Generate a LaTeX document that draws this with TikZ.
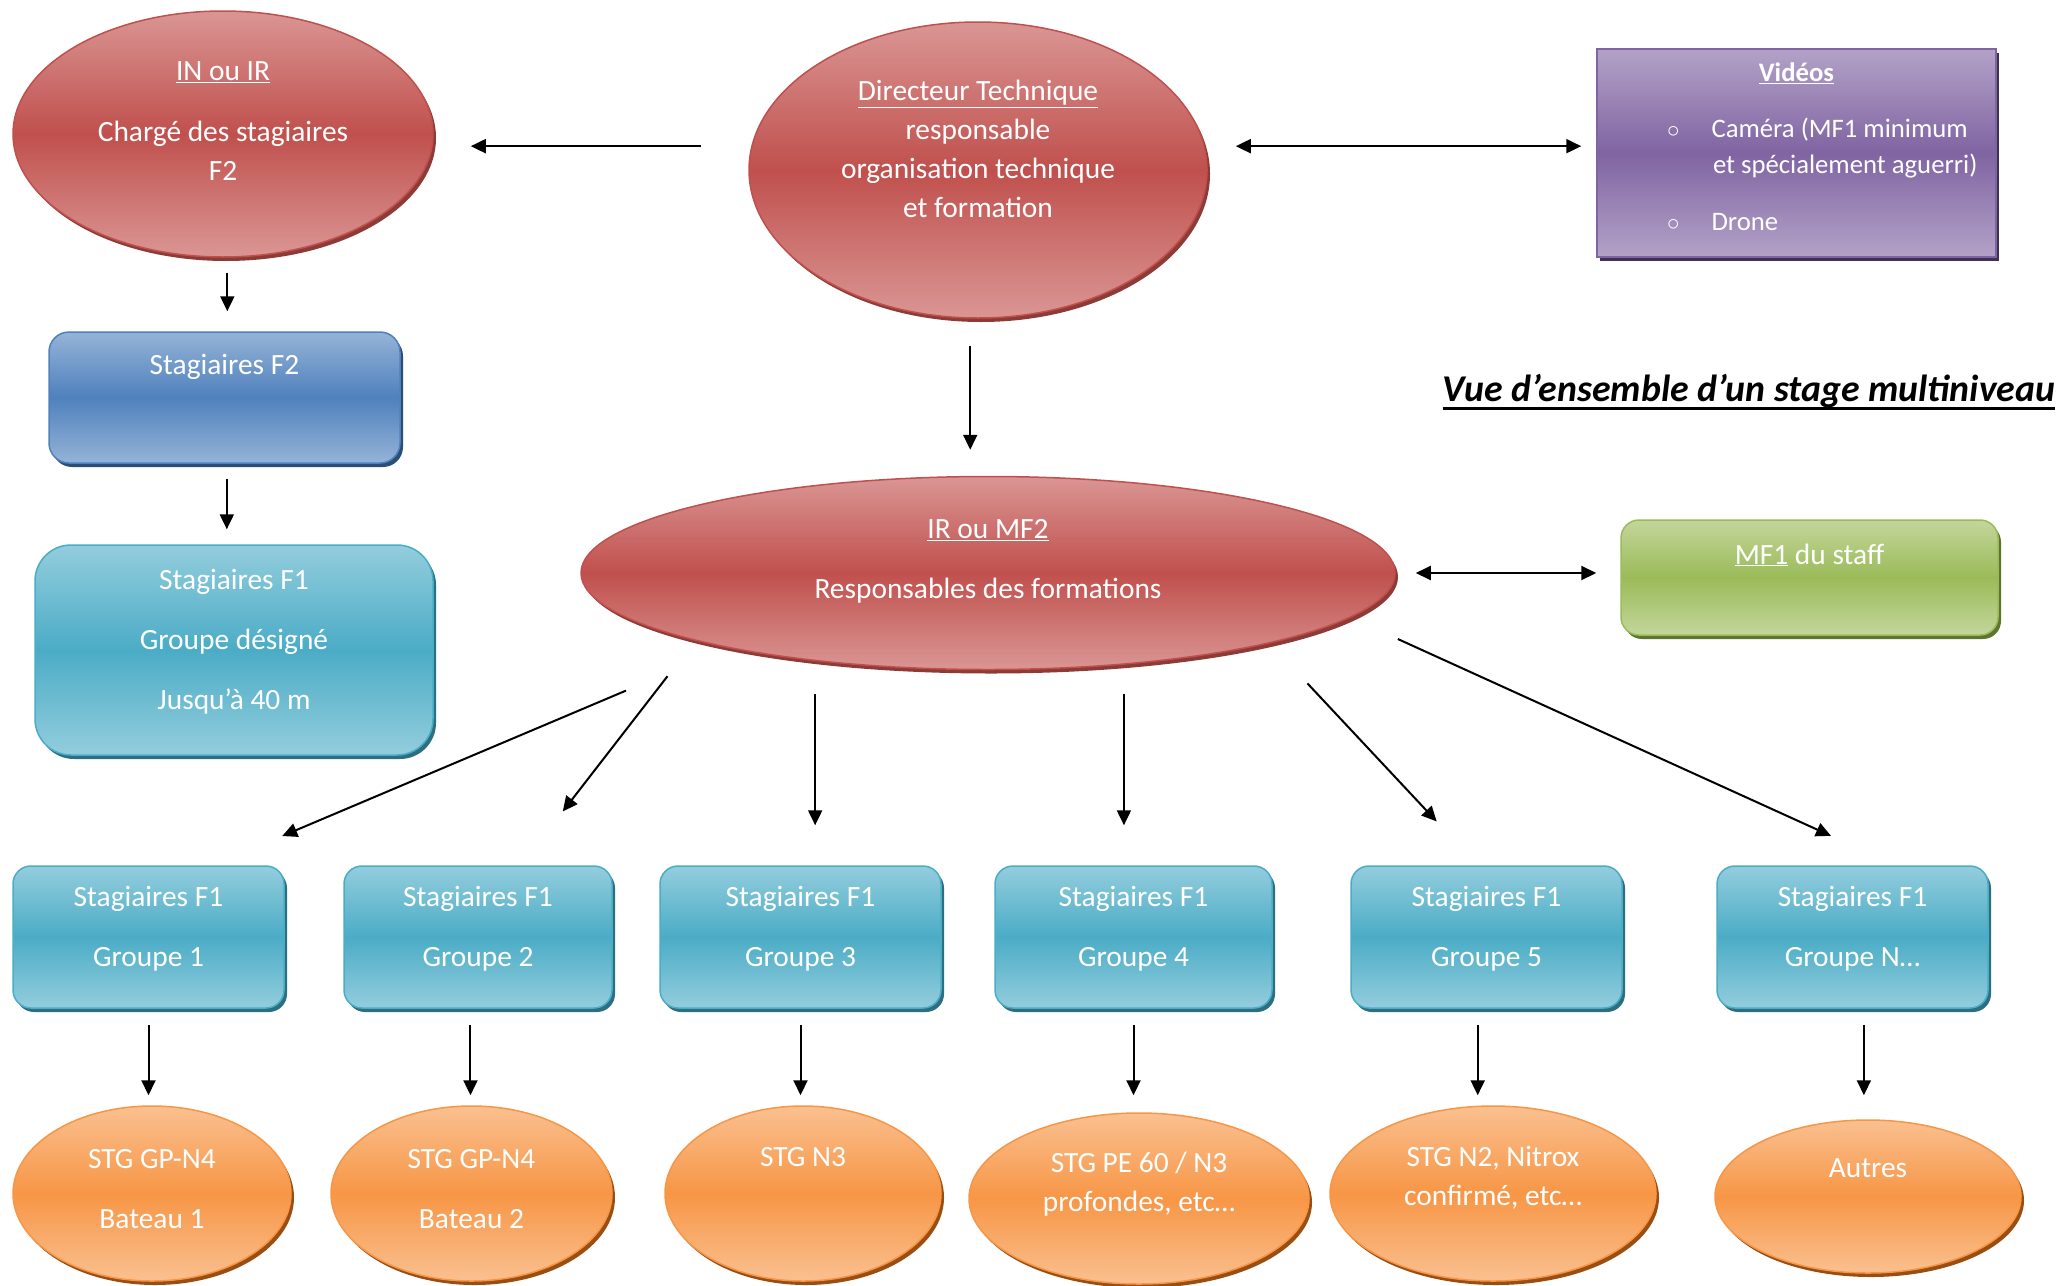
\documentclass[tikz,border=0pt]{standalone}
\usepackage{fontspec}
\setmainfont{Carlito}
\usetikzlibrary{shapes.geometric,shadows,arrows.meta}

\definecolor{rougeF}{HTML}{C0504D}
\definecolor{rougeC}{HTML}{DA9694}
\definecolor{rougeO}{HTML}{8E3A37}
\definecolor{bleuF}{HTML}{4F81BD}
\definecolor{bleuC}{HTML}{95B3D7}
\definecolor{bleuO}{HTML}{2C4D75}
\definecolor{cyanF}{HTML}{4BACC6}
\definecolor{cyanC}{HTML}{93CDDD}
\definecolor{cyanO}{HTML}{2B6F80}
\definecolor{vertF}{HTML}{9BBB59}
\definecolor{vertC}{HTML}{C3D69B}
\definecolor{vertO}{HTML}{5E7530}
\definecolor{violetF}{HTML}{8064A2}
\definecolor{violetC}{HTML}{B3A2C7}
\definecolor{violetO}{HTML}{3F3151}
\definecolor{orangeF}{HTML}{F79646}
\definecolor{orangeC}{HTML}{FAC090}
\definecolor{orangeO}{HTML}{9A4E12}

\newcommand{\cale}[1]{\rule[-#1]{0pt}{#1}}
\newcommand{\soulignegras}[1]{\setbox0\hbox{#1}\rlap{\rule[-8pt]{\wd0}{3pt}}\box0}

\begin{document}
\begin{tikzpicture}[x=1pt,y=-1pt,
    every node/.style={font=\fontsize{29.4}{39}\selectfont, text=white, align=center, inner sep=0pt},
    >={Triangle[length=15pt,width=14pt]},
    fleche/.style={line width=2pt},
    relief/.style={drop shadow={shadow xshift=3pt,shadow yshift=-4pt,fill=#1,opacity=1}},
    rouge/.style={ellipse, draw=rougeF, line width=1.5pt,
        top color=rougeC, bottom color=rougeC, middle color=rougeF, relief=rougeO},
    orange/.style={ellipse, draw=orangeF, line width=1.5pt,
        top color=orangeC, bottom color=orangeC, middle color=orangeF, relief=orangeO},
    groupe/.style={rectangle, rounded corners=18pt, draw=cyanF, line width=1.5pt,
        top color=cyanC, bottom color=cyanC, middle color=cyanF, relief=cyanO,
        minimum height=142pt},
    titre/.style={text=black, font=\fontsize{37.8}{45}\selectfont\bfseries\itshape}
  ]
  \useasboundingbox (0,0) rectangle (2058,1285);

  \node [rouge, minimum width=420pt, minimum height=246pt] (in) at (223,134)
    {\underline{IN ou IR}\\[22pt]Chargé des stagiaires\\F2\cale{26pt}};
  \node [rouge, minimum width=458pt, minimum height=296pt] (dir) at (978,170)
    {\underline{Directeur Technique}\\responsable\\organisation technique\\et formation\cale{42pt}};
  \node [rectangle, draw=violetF, line width=1.5pt, top color=violetC, bottom color=violetC,
      middle color=violetF, relief=violetO, minimum width=399pt, minimum height=208pt,
      align=left, font=\fontsize{26.7}{36}\selectfont] (vid) at (1796.5,153)
    {\makebox[399pt]{\textbf{\underline{Vidéos}}}\\[20pt]
     \makebox[399pt][l]{\hspace*{70pt}\makebox[44.5pt][l]{$\circ$}Caméra (MF1 minimum}\\
     \makebox[399pt][l]{\hspace*{116pt}et spécialement aguerri)}\\[21pt]
     \makebox[399pt][l]{\hspace*{70pt}\makebox[44.5pt][l]{$\circ$}Drone}\cale{12pt}};
  \node [titre] (titre) at (1749,392) {\soulignegras{Vue d’ensemble d’un stage multiniveau}};

  \node [rectangle, rounded corners=20pt, draw=bleuF, line width=1.5pt, top color=bleuC,
      bottom color=bleuC, middle color=bleuF, relief=bleuO,
      minimum width=351pt, minimum height=131pt] (f2) at (224.5,397.5)
    {Stagiaires F2\cale{66pt}};
  \node [groupe, rounded corners=36pt, minimum width=398pt, minimum height=210pt] (f1d) at (234,650)
    {Stagiaires F1\\[21pt]Groupe désigné\\[21pt]Jusqu’à 40 m\cale{21pt}};
  \node [rouge, minimum width=814pt, minimum height=193pt] (ir) at (988,573)
    {\underline{IR ou MF2}\\[21pt]Responsables des formations\cale{28pt}};
  \node [rectangle, rounded corners=18pt, draw=vertF, line width=1.5pt, top color=vertC,
      bottom color=vertC, middle color=vertF, relief=vertO,
      minimum width=377pt, minimum height=115pt] (mf1) at (1809.5,577.5)
    {\underline{MF1} du staff\cale{47pt}};

  \node [groupe, minimum width=271pt] (g1) at (148.5,937) {Stagiaires F1\\[21pt]Groupe 1\cale{22pt}};
  \node [groupe, minimum width=268pt] (g2) at (478,937) {Stagiaires F1\\[21pt]Groupe 2\cale{22pt}};
  \node [groupe, minimum width=281pt] (g3) at (800.5,937) {Stagiaires F1\\[21pt]Groupe 3\cale{22pt}};
  \node [groupe, minimum width=277pt] (g4) at (1133.5,937) {Stagiaires F1\\[21pt]Groupe 4\cale{22pt}};
  \node [groupe, minimum width=271pt] (g5) at (1486.5,937) {Stagiaires F1\\[21pt]Groupe 5\cale{22pt}};
  \node [groupe, minimum width=271pt] (gn) at (1852.5,937) {Stagiaires F1\\[21pt]Groupe N…\cale{22pt}};

  \node [orange, minimum width=278pt, minimum height=175pt] (e1) at (152,1193.5)
    {STG GP-N4\\[21pt]Bateau 1\cale{10pt}};
  \node [orange, minimum width=281pt, minimum height=175pt] (e2) at (471.5,1193.5)
    {STG GP-N4\\[21pt]Bateau 2\cale{10pt}};
  \node [orange, minimum width=276pt, minimum height=175pt] (e3) at (803,1193.5)
    {STG N3\cale{74pt}};
  \node [orange, minimum width=340pt, minimum height=171pt] (e4) at (1139,1198.5)
    {STG PE 60 / N3\\profondes, etc…\cale{34pt}};
  \node [orange, minimum width=326pt, minimum height=175pt] (e5) at (1493,1193.5)
    {STG N2, Nitrox\\confirmé, etc…\cale{35pt}};
  \node [orange, minimum width=306pt, minimum height=153pt] (e6) at (1868,1196.5)
    {Autres\cale{56pt}};

  \draw [fleche, ->, shorten <=50pt, shorten >=37pt] (dir.174) -- (in.east |- dir.174);
  \draw [fleche, <->, shorten <=31pt, shorten >=15pt] (dir.6) -- (vid.west |- dir.6);
  \draw [fleche, ->, shorten <=27pt, shorten >=26pt] (dir.267) -- (dir.267 |- ir.north);
  \draw [fleche, ->, shorten <=15pt, shorten >=20pt] (in.272) -- (in.272 |- f2.north);
  \draw [fleche, ->, shorten <=15pt, shorten >=15pt] (f2.272) -- (f2.272 |- f1d.north);
  \draw [fleche, <->, shorten <=20pt, shorten >=24pt] (ir.east) -- (mf1.west |- ir.east);

  \draw [fleche, ->, shorten <=110pt, shorten >=75pt] (ir.196) -- (g1.48);
  \draw [fleche, ->, shorten <=45pt, shorten >=68pt] (ir.193) -- (g2.59);
  \draw [fleche, ->, shorten <=33pt, shorten >=40pt] (ir.207) -- (ir.207 |- g3.north);
  \draw [fleche, ->, shorten <=29pt, shorten >=40pt] (ir.326) -- (ir.326 |- g4.north);
  \draw [fleche, ->, shorten <=55pt, shorten >=60pt] (ir.346) -- (g5.97);
  \draw [fleche, ->, shorten <=52pt, shorten >=71pt] (ir.353) -- (gn.59);

  \draw [fleche, ->, shorten <=16pt, shorten >=10pt] (g1.south) -- (g1.south |- e1.north);
  \draw [fleche, ->, shorten <=16pt, shorten >=10pt] (g2.264) -- (g2.264 |- e2.north);
  \draw [fleche, ->, shorten <=16pt, shorten >=10pt] (g3.south) -- (g3.south |- e3.north);
  \draw [fleche, ->, shorten <=16pt, shorten >=17pt] (g4.south) -- (g4.south |- e4.north);
  \draw [fleche, ->, shorten <=16pt, shorten >=10pt] (g5.263) -- (g5.263 |- e5.north);
  \draw [fleche, ->, shorten <=16pt, shorten >=24pt] (gn.279) -- (gn.279 |- e6.north);
\end{tikzpicture}
\end{document}
